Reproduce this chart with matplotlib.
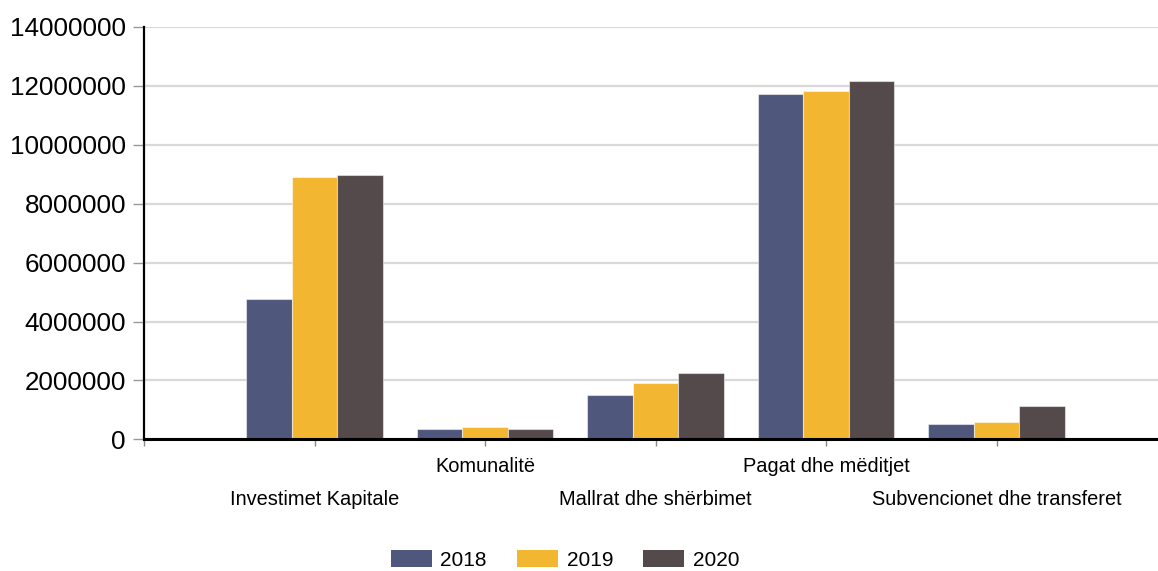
import matplotlib
matplotlib.use("Agg")
import matplotlib.pyplot as plt
import numpy as np
from matplotlib.patches import Patch

categories = ["Investimet Kapitale", "Komunalitë", "Mallrat dhe shërbimet",
              "Pagat dhe mëditjet", "Subvencionet dhe transferet"]
years = ["2018", "2019", "2020"]
v2018 = [4750000, 340000, 1500000, 11740000, 530000]
v2019 = [8900000, 410000, 1910000, 11840000, 580000]
v2020 = [8960000, 340000, 2250000, 12180000, 1140000]
yticks = [0, 2000000, 4000000, 6000000, 8000000, 10000000, 12000000, 14000000]
colors = ["#4F577D", "#F2B631", "#554A4B"]

plt.rcParams['font.family'] = ['Liberation Sans', 'DejaVu Sans']

fig = plt.figure(figsize=(11.58, 5.71), dpi=100)
ax = fig.add_axes([144/1158, 1-439.3/571, 1-144/1158, (439.3-27)/571])

x = np.arange(1, len(categories) + 1)
w = 0.8 / 3
for i, (vals, c, yr) in enumerate(zip([v2018, v2019, v2020], colors, years)):
    ax.bar(x + (i - 1) * w, vals, width=w, color=c, edgecolor=(1, 1, 1, 0.5),
           linewidth=0.8, zorder=3, label=yr)

ax.set_xlim(0, (1158-144)/170.5)
ax.set_ylim(0, 14000000)
ax.set_yticks(yticks)
ax.set_yticklabels([str(t) for t in yticks], fontsize=18.7)
ax.yaxis.grid(True, color="#D9D9D9", linewidth=1.6, zorder=0)
ax.set_xticks(np.arange(0, len(categories) + 1))
ax.set_xticklabels([])
ax.tick_params(axis='y', length=8, width=1, color="#999999", pad=5)
ax.tick_params(axis='x', length=5, width=1, color="#888888")

for s in ["top", "right"]:
    ax.spines[s].set_visible(False)
ax.spines["left"].set_linewidth(1.6)
ax.spines["left"].set_color("black")
ax.spines["bottom"].set_linewidth(2.2)
ax.spines["bottom"].set_color("black")
ax.spines["bottom"].set_zorder(5)

tr = ax.get_xaxis_transform()
for i, cat in enumerate(categories):
    yy = -0.066 if i % 2 == 1 else -0.145
    ax.text(x[i], yy, cat, transform=tr, ha='center', va='center', fontsize=14.4)

handles = [Patch(facecolor=c, edgecolor='none') for c in colors]
fig.legend(handles, years, loc='center', bbox_to_anchor=(0.488, 0.02),
           ncol=3, frameon=False, fontsize=15.0, handlelength=1.95,
           handleheight=0.95, handletextpad=0.42, columnspacing=1.45,
           borderpad=0, borderaxespad=0)

fig.savefig("out.png", dpi=100)
